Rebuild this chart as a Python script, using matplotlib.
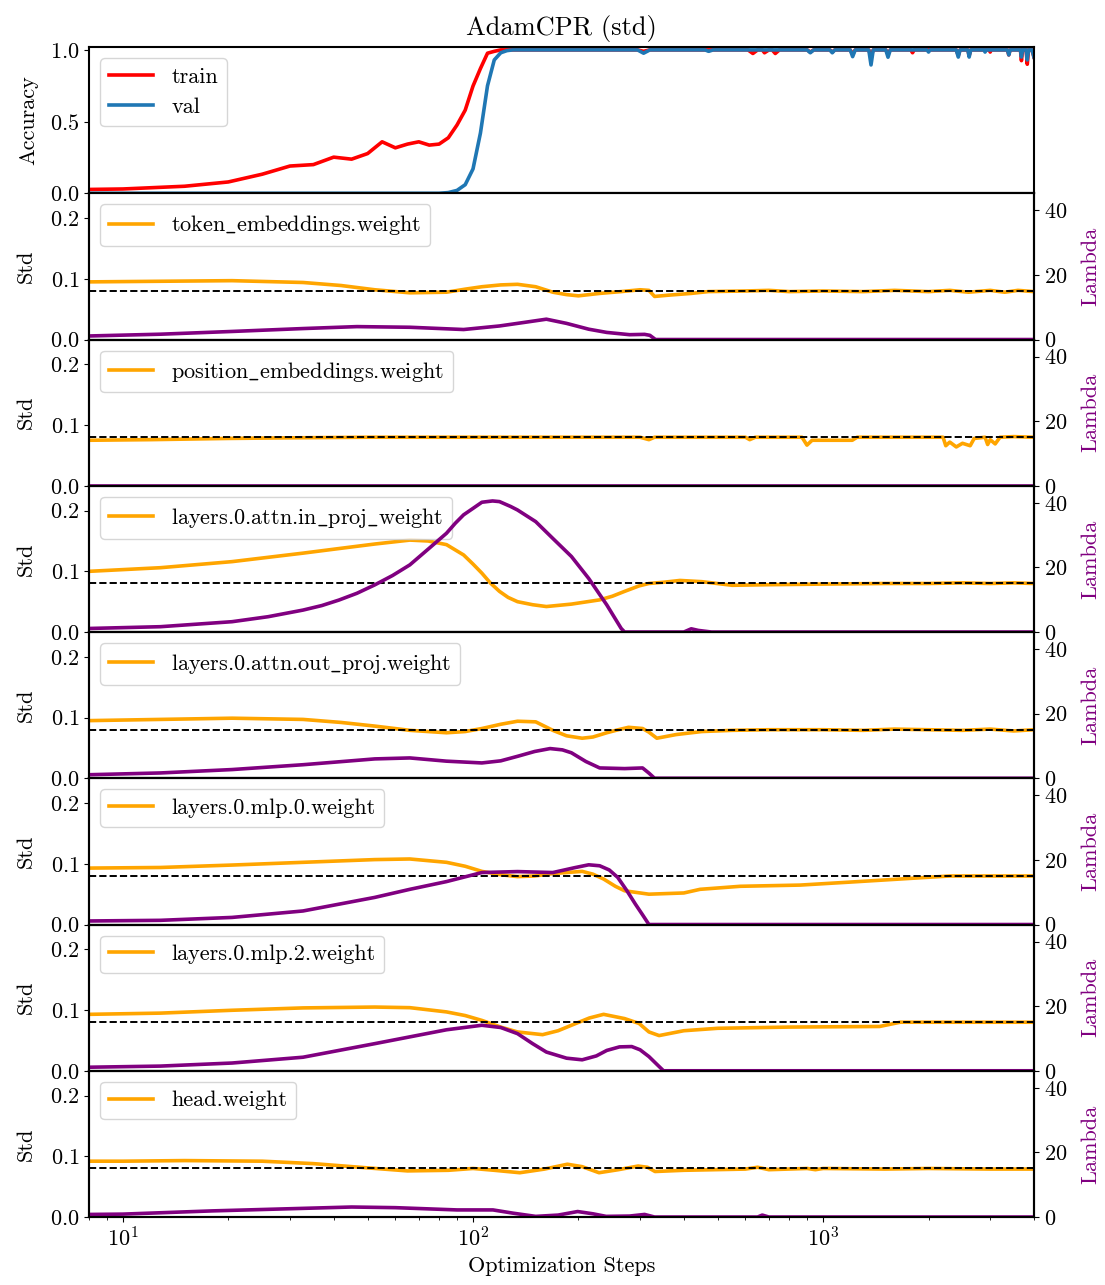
import matplotlib

matplotlib.use("Agg")
import matplotlib.pyplot as plt

plt.rcParams["font.family"] = "serif"
plt.rcParams["font.serif"] = ["cmr10", "DejaVu Serif"]
plt.rcParams["mathtext.fontset"] = "cm"
plt.rcParams["axes.formatter.use_mathtext"] = True
plt.rcParams["font.size"] = 16
plt.rcParams["axes.linewidth"] = 1.5

# ---------------------------------------------------------------------------
# accuracy
# ---------------------------------------------------------------------------
train_steps = [5, 10, 15, 20, 25, 30, 35, 40, 45, 50, 55, 60, 65, 70, 75, 80, 85, 90,
               95, 100, 105, 110, 115, 120, 295, 307, 320, 610, 630, 650, 670, 680, 700,
               715, 730, 750, 900, 919, 940, 1045, 1062, 1080, 1195, 1214, 1235, 1350,
               1370, 1390, 1510, 1532, 1555, 1780, 1800, 1820, 2400, 2432, 2460, 2590,
               2612, 2640, 2980, 3000, 3020, 3360, 3390, 3420, 3660, 3684, 3710, 3800,
               3828, 3860, 3950, 4000]
train_acc = [0.02, 0.03, 0.049, 0.079, 0.133, 0.19, 0.2, 0.252, 0.238, 0.277, 0.359, 0.317,
             0.343, 0.359, 0.336, 0.343, 0.387, 0.476, 0.58, 0.748, 0.87, 0.977, 0.99, 1.0,
             1.0, 0.99, 1.0, 1.0, 0.975, 1.0, 1.0, 0.98, 1.0, 1.0, 0.975, 1.0, 1.0, 0.985,
             1.0, 1.0, 0.985, 1.0, 1.0, 0.97, 1.0, 1.0, 0.95, 1.0, 1.0, 0.97, 1.0, 1.0, 0.98,
             1.0, 1.0, 0.96, 1.0, 1.0, 0.96, 1.0, 1.0, 0.985, 1.0, 1.0, 0.965, 1.0, 1.0,
             0.925, 1.0, 1.0, 0.9, 1.0, 1.0, 0.95]

val_steps = [5, 80, 85, 90, 95, 100, 105, 110, 115, 120, 125, 130, 295, 307, 320, 460, 471,
             485, 900, 919, 940, 1045, 1062, 1080, 1195, 1214, 1235, 1350, 1370, 1390,
             1510, 1532, 1555, 1980, 2000, 2020, 2400, 2432, 2460, 2590, 2612, 2640, 2880,
             2900, 2920, 3360, 3390, 3420, 3660, 3684, 3710, 3800, 3828, 3860, 3950, 4000]
val_acc = [0.0, 0.0, 0.005, 0.02, 0.06, 0.17, 0.42, 0.75, 0.93, 0.98, 0.995, 1.0,
           1.0, 0.977, 1.0, 1.0, 0.99, 1.0, 1.0, 0.98, 1.0, 1.0, 0.98, 1.0, 1.0, 0.953, 1.0,
           1.0, 0.895, 1.0, 1.0, 0.949, 1.0, 1.0, 0.985, 1.0, 1.0, 0.95, 1.0, 1.0, 0.95, 1.0,
           1.0, 0.985, 1.0, 1.0, 0.965, 1.0, 1.0, 0.95, 1.0, 1.0, 0.93, 1.0, 1.0, 0.95]

# ---------------------------------------------------------------------------
# per-parameter std (orange, left axis) and lambda (purple, right axis)
# ---------------------------------------------------------------------------
param_names = ["token_embeddings.weight", "position_embeddings.weight",
               "layers.0.attn.in_proj_weight", "layers.0.attn.out_proj.weight",
               "layers.0.mlp.0.weight", "layers.0.mlp.2.weight", "head.weight"]

tok_std_steps = [8, 12.8, 20.5, 32.7, 42, 52.4, 66, 84, 95, 106, 120, 134, 151, 169, 185,
                 200, 230, 265, 300, 318, 330, 360, 420, 470, 600, 700, 800, 1000, 1300,
                 1600, 2000, 2300, 2600, 3000, 3300, 3600, 4000]
tok_std = [0.095, 0.096, 0.097, 0.094, 0.089, 0.082, 0.077, 0.078, 0.083, 0.087, 0.090,
           0.091, 0.087, 0.078, 0.074, 0.072, 0.076, 0.079, 0.082, 0.081, 0.071, 0.073,
           0.076, 0.079, 0.080, 0.081, 0.079, 0.080, 0.079, 0.081, 0.079, 0.081, 0.078,
           0.081, 0.078, 0.081, 0.079]
tok_lam_steps = [8, 12.8, 20.5, 32.7, 46.6, 66, 94, 119, 140, 162, 185, 214, 241, 280, 309,
                 320, 332, 4000]
tok_lam = [1.1, 1.65, 2.5, 3.4, 4.0, 3.8, 3.1, 4.2, 5.3, 6.3, 5.0, 3.2, 2.2, 1.5, 1.6, 1.3,
           0.0, 0.0]

pos_std_steps = [8, 12, 20, 30, 50, 100, 200, 300, 318, 330, 600, 617, 640, 870, 899, 930,
                 1100, 1211, 1250, 2200, 2240, 2300, 2400, 2500, 2630, 2700, 2900, 2950,
                 3000, 3100, 3200, 3500, 4000]
pos_std = [0.075, 0.076, 0.078, 0.079, 0.080, 0.080, 0.080, 0.080, 0.076, 0.080, 0.080,
           0.076, 0.080, 0.080, 0.067, 0.075, 0.075, 0.075, 0.080, 0.080, 0.066, 0.072,
           0.064, 0.070, 0.066, 0.078, 0.080, 0.068, 0.076, 0.069, 0.080, 0.081, 0.080]
pos_lam_steps = [8, 4000]
pos_lam = [0.0, 0.0]

inp_std_steps = [8, 12.8, 20.5, 32.7, 42, 52.4, 66, 74.5, 84, 94, 100, 106, 112, 119, 126,
                 134, 148, 162, 191, 230, 250, 271, 298, 318, 350, 390, 450, 550, 700, 1000,
                 1500, 2000, 2500, 3000, 3500, 4000]
inp_std = [0.100, 0.106, 0.116, 0.130, 0.138, 0.145, 0.1515, 0.150, 0.144, 0.127, 0.112,
           0.097, 0.081, 0.067, 0.057, 0.050, 0.045, 0.042, 0.046, 0.053, 0.059, 0.067,
           0.076, 0.080, 0.082, 0.085, 0.083, 0.077, 0.078, 0.079, 0.080, 0.080, 0.081,
           0.080, 0.081, 0.080]
inp_lam_steps = [8, 12.8, 20.5, 26, 32.7, 37, 41.4, 46.6, 52.4, 58.9, 66, 74.5, 84, 89, 94,
                 100, 106, 113.7, 119, 128, 134, 151, 169, 191, 214, 241, 265, 271, 400, 420,
                 440, 480, 1000, 4000]
inp_lam = [1.1, 1.65, 3.2, 4.75, 6.8, 8.2, 9.9, 12.0, 14.6, 17.5, 20.8, 25.7, 30.6, 33.7,
           36.3, 38.3, 40.2, 40.6, 40.4, 38.9, 37.8, 34.2, 29.0, 23.4, 16.6, 8.4, 1.1, 0.0,
           0.0, 1.0, 0.5, 0.0, 0.0, 0.0]

out_std_steps = [8, 12.8, 20.5, 32.7, 42, 52.4, 66, 84, 95, 106, 120, 134, 151, 169, 185,
                 205, 220, 241, 260, 278, 305, 318, 335, 380, 450, 550, 700, 1000, 1300,
                 1600, 2000, 2500, 3000, 3500, 4000]
out_std = [0.095, 0.097, 0.099, 0.097, 0.092, 0.086, 0.079, 0.075, 0.077, 0.082, 0.089,
           0.094, 0.093, 0.079, 0.070, 0.066, 0.068, 0.075, 0.080, 0.084, 0.082, 0.076,
           0.066, 0.072, 0.077, 0.079, 0.080, 0.080, 0.079, 0.081, 0.080, 0.079, 0.081,
           0.078, 0.080]
out_lam_steps = [8, 12.8, 20.5, 32.7, 52.4, 66, 84, 106, 120, 134, 150, 166, 180, 191, 210,
                 230, 271, 305, 318, 330, 4000]
out_lam = [1.1, 1.65, 2.7, 4.2, 6.0, 6.3, 5.3, 4.75, 5.4, 6.8, 8.3, 9.2, 8.8, 7.9, 5.2,
           3.2, 3.0, 3.2, 1.6, 0.0, 0.0]

mlp0_std_steps = [8, 12.8, 20.5, 32.7, 52.4, 66, 84, 95, 106, 120, 134, 150, 169, 205, 220,
                  236, 255, 271, 318, 400, 445, 580, 860, 1200, 1660, 2300, 3000, 4000]
mlp0_std = [0.093, 0.094, 0.098, 0.1025, 0.107, 0.108, 0.1025, 0.096, 0.0876, 0.082, 0.079,
            0.080, 0.084, 0.0876, 0.083, 0.075, 0.063, 0.0556, 0.050, 0.052, 0.058, 0.063,
            0.065, 0.070, 0.075, 0.080, 0.080, 0.080]
mlp0_lam_steps = [8, 12.8, 20.5, 32.7, 52.4, 66, 84, 106, 134, 169, 195, 214, 230, 245,
                  259, 275, 291, 305, 318, 4000]
mlp0_lam = [1.1, 1.3, 2.2, 4.2, 8.4, 10.9, 13.3, 16.1, 16.4, 16.1, 17.6, 18.5, 18.2, 16.9,
            14.6, 10.5, 6.3, 3.0, 0.0, 0.0]

mlp2_std_steps = [8, 12.8, 20.5, 32.7, 52.4, 66, 84, 95, 106, 120, 134, 158, 175, 191, 215,
                  236, 271, 298, 318, 340, 400, 500, 800, 1450, 1660, 2000, 3000, 4000]
mlp2_std = [0.093, 0.095, 0.0997, 0.1036, 0.105, 0.104, 0.097, 0.091, 0.083, 0.072, 0.064,
            0.0595, 0.066, 0.075, 0.087, 0.093, 0.086, 0.078, 0.064, 0.058, 0.066, 0.070,
            0.072, 0.073, 0.080, 0.080, 0.080, 0.080]
mlp2_lam_steps = [8, 12.8, 20.5, 32.7, 52.4, 84, 106, 120, 134, 148, 162, 185, 205, 225,
                  241, 262, 284, 300, 318, 335, 350, 4000]
mlp2_lam = [1.1, 1.45, 2.4, 4.2, 8.4, 12.7, 14.1, 13.4, 11.5, 8.4, 5.8, 3.9, 3.4, 4.6,
            6.3, 7.4, 7.5, 6.5, 4.4, 2.0, 0.0, 0.0]

head_std_steps = [8, 10, 15, 25, 35, 50, 65, 85, 100, 115, 136, 160, 186, 205, 229, 260,
                  296, 315, 331, 400, 600, 650, 700, 900, 950, 1000, 1500, 2000, 3000, 4000]
head_std = [0.092, 0.092, 0.093, 0.092, 0.088, 0.081, 0.076, 0.077, 0.080, 0.077, 0.073,
            0.079, 0.087, 0.083, 0.073, 0.078, 0.084, 0.082, 0.075, 0.077, 0.079, 0.082,
            0.078, 0.080, 0.078, 0.080, 0.079, 0.080, 0.079, 0.079]
head_lam_steps = [8, 10, 18, 45, 60, 90, 114, 130, 151, 175, 199, 220, 240, 280, 309, 330,
                  650, 670, 700, 4000]
head_lam = [0.8, 0.9, 1.9, 3.1, 2.9, 2.2, 2.2, 1.2, 0.2, 0.6, 1.7, 1.0, 0.2, 0.3, 0.8, 0.0,
            0.0, 0.6, 0.0, 0.0]

std_series = [(tok_std_steps, tok_std), (pos_std_steps, pos_std), (inp_std_steps, inp_std),
              (out_std_steps, out_std), (mlp0_std_steps, mlp0_std),
              (mlp2_std_steps, mlp2_std), (head_std_steps, head_std)]
lam_series = [(tok_lam_steps, tok_lam), (pos_lam_steps, pos_lam), (inp_lam_steps, inp_lam),
              (out_lam_steps, out_lam), (mlp0_lam_steps, mlp0_lam),
              (mlp2_lam_steps, mlp2_lam), (head_lam_steps, head_lam)]

target_std = 0.08


def tex_label(name):
    # plain cmr10 text; only the underscore goes through mathtext (cmr10 has no '_')
    return name.replace("_", r"$\_$")


# ---------------------------------------------------------------------------
fig, axes = plt.subplots(8, 1, figsize=(11.05, 12.85), dpi=100, sharex=True)
fig.subplots_adjust(left=0.0805, right=0.9357, top=0.9634, bottom=0.0529, hspace=0)

ax = axes[0]
ax.plot(train_steps, train_acc, color="red", lw=2.6, label="train")
ax.plot(val_steps, val_acc, color="#1f77b4", lw=2.6, label="val")
ax.set_xscale("log")
ax.set_xlim(8, 4000)
ax.set_ylim(0, 1.02)
ax.set_yticks([0.0, 0.5, 1.0])
ax.set_ylabel("Accuracy", labelpad=8)
ax.legend(loc="upper left")
ax.set_title("AdamCPR (std)", fontsize=19, pad=9)

for i, name in enumerate(param_names):
    ax = axes[i + 1]
    s_steps, s_vals = std_series[i]
    l_steps, l_vals = lam_series[i]
    ax.plot(s_steps, s_vals, color="orange", lw=2.6, label=tex_label(name))
    ax.axhline(target_std, color="black", ls="--", lw=1.4)
    ax.set_ylim(0, 0.241)
    ax.set_yticks([0.0, 0.1, 0.2])
    ax.set_ylabel("Std", labelpad=10)
    ax.legend(loc="upper left")

    ax2 = ax.twinx()
    ax2.plot(l_steps, l_vals, color="purple", lw=2.6)
    ax2.set_ylim(0, 45.3)
    ax2.set_yticks([0, 20, 40])
    ax2.set_ylabel("Lambda", color="purple", labelpad=10)

for ax in axes[:-1]:
    ax.tick_params(axis="x", which="both", bottom=False, labelbottom=False)
axes[-1].set_xlabel("Optimization Steps")

fig.savefig("out.png", dpi=100)
